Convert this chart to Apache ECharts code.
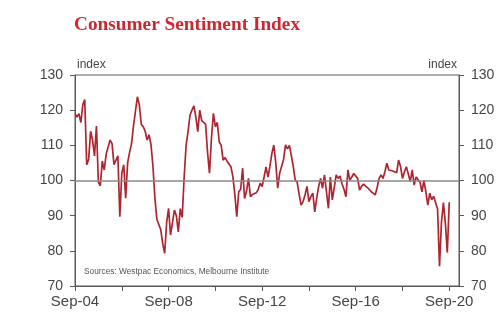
<!DOCTYPE html>
<html>
<head>
<meta charset="utf-8">
<script src="https://cdn.jsdelivr.net/npm/echarts@6/dist/echarts.min.js"></script>
<style>
  html, body { margin: 0; padding: 0; background: #fff; }
  #chart { width: 504px; height: 325px; }
</style>
</head>
<body>
<div id="chart"></div>
<script>
// Westpac-Melbourne Institute consumer sentiment, monthly from Sep-04 to Sep-20
const xTickLabels = ['Sep-04', 'Sep-08', 'Sep-12', 'Sep-16', 'Sep-20'];
const sentiment = [
  119, 118, 119, 116.5, 121.5, 123, 104.5, 106, 114, 111.5, 107, 115.5,
  99.5, 98.5, 105.5, 103, 107.5, 109.5, 111.5, 110.5, 104.5, 104, 107, 89.7,
  102, 104.5, 95, 105, 108, 110.5, 115.5, 116, 123.8, 121.5, 116, 115.3,
  114, 111.5, 113, 110.1, 104, 95, 89, 89.5, 86, 82, 79.3, 88,
  92.1, 84.5, 88, 91.6, 90, 85.4, 92, 89.5, 101, 110, 114, 118.6,
  120, 121.2, 118, 113.9, 120, 117, 116.7, 116, 108, 102.1, 112, 119.1,
  115.3, 116.5, 111, 110, 105.8, 106.5, 105.5, 106, 103.9, 101.1, 96, 89.7,
  96.8, 97.5, 103.5, 94.9, 97, 100.6, 95.4, 96, 95.5, 96.5, 97.5, 99.2,
  98.3, 101, 103.9, 101, 104, 107.7, 110.1, 105, 97.8, 102.1, 102.5, 106,
  110.1, 109, 110, 107, 103.9, 100.1, 99.5, 96, 93, 94, 95.9, 98.3,
  94, 95.4, 96.4, 91.1, 95, 98.3, 100.6, 97.8, 101.6, 96.8, 92.1, 101,
  94.5, 98, 101.6, 100.6, 101.3, 99, 97.5, 95.4, 103, 100.1, 101, 102,
  101.5, 100.6, 97.3, 98.3, 99, 99.2, 98, 97.5, 96.8, 96.5, 95.9, 98,
  100.6, 101.6, 100.6, 102.5, 104.9, 103, 103.2, 102.7, 102.4, 102.2, 105.8, 104,
  100.6, 102.5, 103.9, 104, 99.7, 103, 98.7, 101, 100.5, 99.5, 96.8, 100,
  96.8, 93, 96.4, 94.5, 95.5, 93.7, 91.9, 75.6, 88.1, 93.7, 87.9, 79.5,
  93.8
];

// month offset from Sep-04 -> [x, value]
const points = sentiment.map((v, i) => [i, v]);
const lastMonth = sentiment.length - 1;

const majorTicks = xTickLabels.map((_, k) => k * 48);
const minorTicks = [];
for (let m = 0; m <= lastMonth; m += 24) minorTicks.push(m);

const axisGray = '#5a5a5a';
const textGray = '#454545';

const chart = echarts.init(document.getElementById('chart'), null, { renderer: 'canvas' });

const yAxisBase = {
  type: 'value',
  min: 70,
  max: 130,
  interval: 10,
  axisLine: { show: true, lineStyle: { color: axisGray, width: 1 } },
  axisTick: { show: true, length: 5, lineStyle: { color: axisGray } },
  splitLine: { show: false },
  axisLabel: { color: textGray, fontFamily: 'Liberation Sans', fontSize: 14, margin: 12 },
  nameTextStyle: { color: textGray, fontFamily: 'Liberation Sans', fontSize: 12 },
  name: 'index',
  nameGap: 4
};

chart.setOption({
  animation: false,
  title: {
    text: 'Consumer Sentiment Index',
    left: 74,
    top: 16,
    padding: 0,
    textStyle: {
      color: '#c92a32',
      fontFamily: 'Liberation Serif',
      fontWeight: 'bold',
      fontSize: 19.3
    }
  },
  graphic: [{
    type: 'text',
    left: 84,
    top: 268,
    style: {
      text: 'Sources: Westpac Economics, Melbourne Institute',
      fill: '#555',
      font: '8.3px "Liberation Sans"'
    }
  }],
  grid: {
    left: 75,
    right: 45,
    top: 75,
    bottom: 39,
    show: true,
    borderColor: axisGray,
    borderWidth: 1
  },
  xAxis: {
    type: 'value',
    min: 0,
    max: lastMonth + 5,
    axisLine: { show: true, onZero: false, lineStyle: { color: axisGray } },
    axisTick: { show: true, length: 5, customValues: minorTicks, lineStyle: { color: axisGray } },
    splitLine: { show: false },
    axisLabel: {
      customValues: majorTicks,
      color: textGray,
      fontFamily: 'Liberation Sans',
      fontSize: 15,
      margin: 8,
      formatter: v => xTickLabels[Math.round(v / 48)] || ''
    }
  },
  yAxis: [
    Object.assign({}, yAxisBase, {
      position: 'left',
      nameTextStyle: Object.assign({}, yAxisBase.nameTextStyle, { align: 'left', padding: [0, 0, 0, 2] })
    }),
    Object.assign({}, yAxisBase, {
      position: 'right',
      nameTextStyle: Object.assign({}, yAxisBase.nameTextStyle, { align: 'right', padding: [0, 2, 0, 0] })
    })
  ],
  series: [{
    type: 'line',
    data: points,
    yAxisIndex: 0,
    showSymbol: false,
    lineStyle: { color: '#ae2530', width: 1.7 },
    markLine: {
      silent: true,
      symbol: 'none',
      label: { show: false },
      lineStyle: { color: '#8a8a8a', width: 1.5, type: 'solid' },
      data: [{ yAxis: 100 }]
    },
    z: 3
  }]
});
</script>
</body>
</html>
